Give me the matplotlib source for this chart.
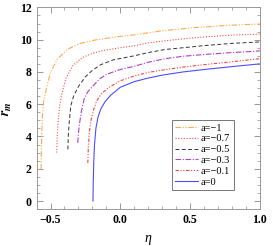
import matplotlib
matplotlib.use("Agg")
import matplotlib.pyplot as plt
from matplotlib.ticker import MultipleLocator, FuncFormatter

# values (eta, r_m) for each a
eta_a1 = [-0.568, -0.566, -0.563, -0.558, -0.55, -0.532, -0.5, -0.45, -0.38, -0.29, -0.18, -0.05, 0.1, 0.3, 0.5, 0.75, 1.0]
r_a1 = [1.95, 3.0, 4.2, 5.3, 6.1, 6.9, 8.0, 8.8, 9.4, 9.76, 9.98, 10.15, 10.3, 10.55, 10.72, 10.88, 10.97]

eta_a07 = [-0.456, -0.452, -0.445, -0.435, -0.42, -0.39, -0.34, -0.27, -0.2, -0.14, 0.0, 0.1, 0.2, 0.32, 0.45, 0.6, 0.8, 1.0]
r_a07 = [3.0, 4.0, 5.0, 5.9, 6.6, 7.6, 8.4, 8.9, 9.15, 9.3, 9.5, 9.62, 9.8, 9.93, 10.05, 10.17, 10.28, 10.35]

eta_a05 = [-0.376, -0.372, -0.365, -0.355, -0.335, -0.3, -0.25, -0.2, -0.14, -0.05, 0.1, 0.2, 0.32, 0.45, 0.6, 0.8, 1.0]
r_a05 = [3.2, 4.2, 5.0, 5.9, 6.5, 7.1, 7.7, 8.1, 8.45, 8.75, 9.0, 9.2, 9.39, 9.5, 9.63, 9.77, 9.86]

eta_a03 = [-0.305, -0.3, -0.293, -0.28, -0.26, -0.235, -0.2, -0.15, -0.1, 0.0, 0.1, 0.2, 0.32, 0.45, 0.6, 0.8, 1.0]
r_a03 = [3.6, 4.2, 4.76, 5.5, 6.3, 6.75, 7.1, 7.55, 7.85, 8.15, 8.35, 8.6, 8.82, 8.97, 9.08, 9.2, 9.3]

eta_a01 = [-0.233, -0.229, -0.222, -0.21, -0.19, -0.17, -0.14, -0.09, -0.04, 0.0, 0.1, 0.2, 0.32, 0.45, 0.6, 0.8, 1.0]
r_a01 = [2.36, 3.4, 4.3, 5.0, 5.7, 6.2, 6.6, 7.0, 7.25, 7.45, 7.75, 7.97, 8.14, 8.3, 8.45, 8.63, 8.82]

eta_a0 = [-0.196, -0.194, -0.19, -0.185, -0.175, -0.16, -0.14, -0.11, -0.07, 0.0, 0.1, 0.2, 0.3, 0.45, 0.6, 0.8, 1.0]
r_a0 = [0.0, 1.2, 2.5, 3.5, 4.5, 5.2, 5.7, 6.15, 6.55, 7.05, 7.4, 7.62, 7.8, 8.0, 8.15, 8.33, 8.5]

labels = ["a=\u22121", "a=\u22120.7", "a=\u22120.5", "a=\u22120.3", "a=\u22120.1", "a=0"]

plt.rcParams["font.family"] = ["Liberation Serif", "DejaVu Serif"]
plt.rcParams["font.weight"] = "bold"  # bold tick labels like the reference
plt.rcParams["mathtext.fontset"] = "stix"

fig = plt.figure(figsize=(2.73, 2.46), dpi=100)
ax = fig.add_axes([0.134, 0.15, 0.818, 0.82])

ax.plot(eta_a1, r_a1, color="#ffa94d", lw=0.8, ls=(0, (5, 1.5, 1, 1.5, 1, 1.5)), label=labels[0])
ax.plot(eta_a07, r_a07, color="#ff4d4d", lw=0.8, ls=(0, (1, 1.5)), label=labels[1])
ax.plot(eta_a05, r_a05, color="#333333", lw=0.7, ls=(0, (4, 2.5)), label=labels[2])
ax.plot(eta_a03, r_a03, color="#b040c8", lw=0.8, ls=(0, (5, 1.5, 1, 1.5)), label=labels[3])
ax.plot(eta_a01, r_a01, color="#ff4040", lw=0.8, ls=(0, (3, 1.5, 1, 1.5, 1, 1.5)), label=labels[4])
ax.plot(eta_a0, r_a0, color="#4d4dff", lw=0.8, ls="-", label=labels[5])

ax.set_xlim(-0.6, 1.0)
ax.set_ylim(-0.5, 12)
ax.xaxis.set_major_locator(MultipleLocator(0.5))
ax.xaxis.set_minor_locator(MultipleLocator(0.1))
ax.yaxis.set_major_locator(MultipleLocator(2))
ax.yaxis.set_minor_locator(MultipleLocator(0.5))
ax.xaxis.set_major_formatter(FuncFormatter(lambda v, p: f"{v:.1f}".replace("-", "\u2212")))
ax.yaxis.set_major_formatter(FuncFormatter(lambda v, p: f"{v:.0f}"))
ax.tick_params(which="both", direction="in", top=True, right=True, colors="#888888",
               labelcolor="black", labelsize=8.5)
ax.tick_params(which="major", length=4, width=0.6)
ax.tick_params(which="minor", length=2, width=0.5)
for s in ax.spines.values():
    s.set_color("#999999")
    s.set_linewidth(0.7)

ax.set_xlabel("\u03b7", fontsize=10, labelpad=4, fontweight="normal", fontstyle="italic")
ax.set_ylabel(r"$r_m$", fontsize=10, labelpad=4, fontweight="normal")

leg = ax.legend(loc="upper left", bbox_to_anchor=(0.606, 0.441), borderaxespad=0,
                prop={"size": 7.5, "weight": "normal"}, handlelength=2.2,
                handletextpad=0.3, labelspacing=0.15, borderpad=0.3,
                fancybox=False, framealpha=1)
leg.get_frame().set_edgecolor("#777777")
leg.get_frame().set_linewidth(0.7)

fig.savefig("out.png", dpi=100)
